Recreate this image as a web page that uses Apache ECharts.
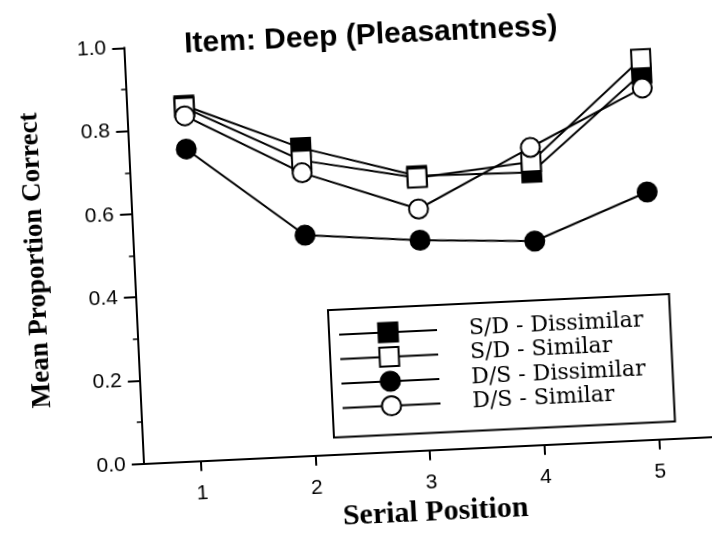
<!DOCTYPE html>
<html>
<head>
<meta charset="utf-8">
<script src="https://cdn.jsdelivr.net/npm/echarts@6/dist/echarts.min.js"></script>
<style>
html,body{margin:0;padding:0;background:#fff;overflow:hidden;width:712px;height:533px;}
/* the scanned figure sits a little crooked, so turn the whole chart about its origin */
#main{width:730px;height:570px;transform-origin:143.75px 463.75px;transform:rotate(-2.7deg);}
</style>
</head>
<body>
<div id="main"></div>
<script>
// serial positions and tick labels
var positions=[1,2,3,4,5];
var xTicks=[1,2,3,4,5];

// mean proportion correct for each condition
var sdDissimilar=[0.855,0.74,0.66,0.655,0.88];
var sdSimilar=[0.85,0.71,0.655,0.68,0.915];
var dsDissimilar=[0.75,0.53,0.505,0.49,0.595];
var dsSimilar=[0.83,0.68,0.58,0.715,0.845];

var names=['S/D - Dissimilar','S/D - Similar','D/S - Dissimilar','D/S - Similar'];

var myChart=echarts.init(document.getElementById('main'));

function line(name,vals,symbol,fill){
	var pts=[];
	for(var i=0;i<positions.length;i++){
		pts.push([positions[i],vals[i]]);
	}
	return {
		name:name,
		type:'line',
		data:pts,
		symbol:symbol,
		symbolSize:19,
		lineStyle:{color:'#000',width:2},
		itemStyle:{color:fill,borderColor:'#000',borderWidth:2},
		emphasis:{disabled:true}
	};
}

var option={
	animation:false,
	backgroundColor:'#fff',
	title:{
		text:'Item: Deep (Pleasantness)',
		left:204,
		top:32,
		padding:0,
		textStyle:{fontFamily:'Liberation Sans',fontWeight:'bold',fontSize:30,color:'#000'}
	},
	grid:{left:143.75,top:47.35,bottom:106.25,right:7.55,outerBoundsMode:'none'},
	legend:{
		orient:'vertical',
		left:335,
		top:319,
		padding:[13,27,17,9],
		itemWidth:98,
		itemHeight:24,
		itemGap:0.5,
		borderColor:'#000',
		borderWidth:2,
		selectedMode:false,
		data:names,
		textStyle:{fontFamily:'DejaVu Serif',fontSize:22,color:'#000',padding:[0,0,0,27],lineHeight:24}
	},
	xAxis:{
		type:'value',
		min:0.5,
		max:5.55,
		splitLine:{show:false},
		axisLine:{onZero:false,lineStyle:{color:'#000',width:2}},
		axisTick:{customValues:xTicks,length:10,lineStyle:{color:'#000',width:2}},
		axisLabel:{customValues:xTicks,margin:22,fontSize:21,fontFamily:'Liberation Sans',color:'#000'},
		name:'Serial Position',
		nameLocation:'middle',
		nameGap:42,
		nameTextStyle:{fontFamily:'Liberation Serif',fontWeight:'bold',fontSize:30,color:'#000'}
	},
	yAxis:{
		type:'value',
		min:0,
		max:1,
		interval:0.2,
		splitLine:{show:false},
		axisLine:{show:true,lineStyle:{color:'#000',width:2}},
		axisTick:{show:true,length:12,lineStyle:{color:'#000',width:2}},
		minorTick:{show:true,splitNumber:2,length:5,lineStyle:{color:'#000',width:1.5}},
		axisLabel:{formatter:function(v){return v.toFixed(1);},margin:18,fontSize:21,fontFamily:'Liberation Sans',color:'#000'},
		name:'Mean Proportion Correct',
		nameLocation:'middle',
		nameGap:84,
		nameTextStyle:{fontFamily:'Liberation Serif',fontWeight:'bold',fontSize:27,color:'#000'}
	},
	series:[
		line(names[0],sdDissimilar,'rect','#000'),
		line(names[1],sdSimilar,'rect','#fff'),
		line(names[2],dsDissimilar,'circle','#000'),
		line(names[3],dsSimilar,'circle','#fff')
	]
};
myChart.setOption(option);
</script>
</body>
</html>
